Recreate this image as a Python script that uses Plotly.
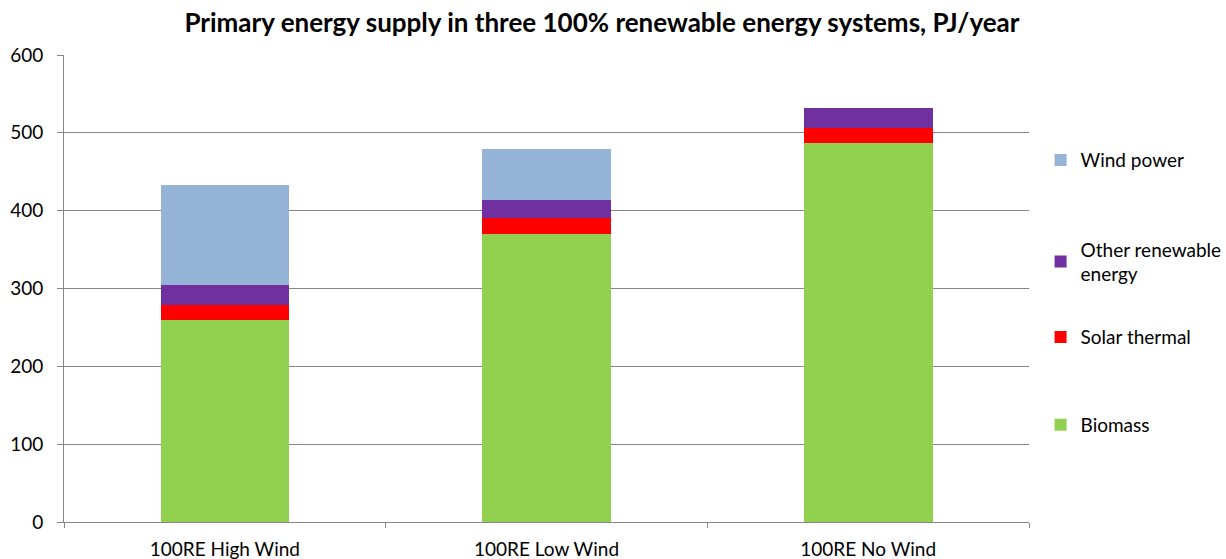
import plotly.graph_objects as go

# Scenario names and primary energy supply by source (PJ/year)
scenarios = ["100RE High Wind", "100RE Low Wind", "100RE No Wind"]
biomass = [259, 370, 487]
solar_thermal = [20, 20, 19]
other_renewable = [25, 24, 26]
wind_power = [129, 65, 0]

y_ticks = [0, 100, 200, 300, 400, 500, 600]

FONT = "Lato"
GRID = "#868686"

# (legend label, values, colour, legend id, legend vertical centre in paper coords)
series = [
    ("Biomass", biomass, "#92D050", "legend", 0.208),
    ("Solar thermal", solar_thermal, "#FF0000", "legend2", 0.396),
    ("Other renewable<br>energy", other_renewable, "#7030A0", "legend3", 0.557),
    ("Wind power", wind_power, "#95B3D7", "legend4", 0.775),
]

fig = go.Figure()
legend_layouts = {}
for name, vals, color, leg, ly in series:
    fig.add_trace(go.Bar(
        x=scenarios, y=vals, name=name,
        marker=dict(color=color, line=dict(width=0)),
        legend=leg, showlegend=True,
        width=0.4,
    ))
    legend_layouts[leg] = dict(
        x=1.012, xanchor="left", y=ly, yanchor="middle",
        font=dict(family=FONT, size=19, color="#000000"),
        itemwidth=30, bgcolor="rgba(0,0,0,0)",
    )

fig.update_layout(
    barmode="stack",
    width=1226, height=559,
    margin=dict(l=64, r=197, t=55, b=37, autoexpand=False),
    paper_bgcolor="white", plot_bgcolor="white",
    font=dict(family=FONT, size=19, color="#000000"),
    showlegend=True,
    title=dict(
        text="<b>Primary energy supply in three 100% renewable energy systems, PJ/year</b>",
        x=0.491, xanchor="center", y=0.959, yanchor="middle",
        font=dict(family=FONT, size=26, color="#000000"),
    ),
    xaxis=dict(
        showline=True, linecolor=GRID, linewidth=1,
        ticks="outside", tickcolor=GRID, ticklen=5,
        tickson="boundaries",
        showgrid=False,
        tickfont=dict(family=FONT, size=19),
        ticklabelstandoff=10,
        automargin=False,
    ),
    yaxis=dict(
        range=[0, 600], tickvals=y_ticks,
        showline=True, linecolor=GRID, linewidth=1,
        ticks="outside", tickcolor=GRID, ticklen=6,
        showgrid=True, gridcolor=GRID, gridwidth=1,
        zeroline=False,
        tickfont=dict(family=FONT, size=19),
        ticklabelstandoff=10,
        automargin=False,
    ),
    bargap=0.6,
    **legend_layouts,
)

fig.write_html("out.html")
